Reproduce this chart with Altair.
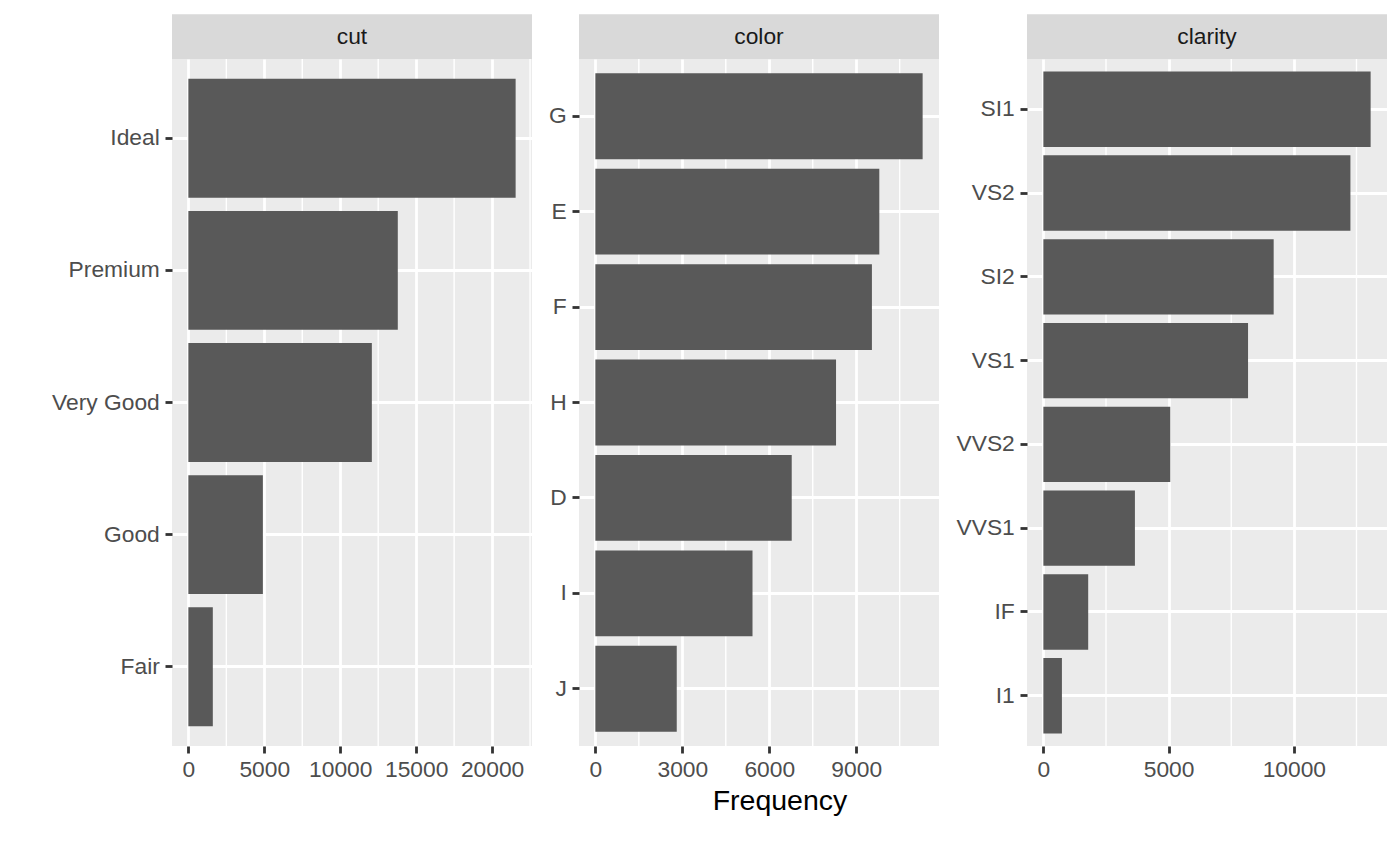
import altair as alt
import pandas as pd

# ---- data (diamonds counts) ----
cut_levels = ["Fair", "Good", "Very Good", "Premium", "Ideal"]
cut_counts = [1610, 4906, 12082, 13791, 21551]

color_levels = ["D", "E", "F", "G", "H", "I", "J"]
color_counts = [6775, 9797, 9542, 11292, 8304, 5422, 2808]

clarity_levels = ["I1", "SI2", "SI1", "VS2", "VS1", "VVS2", "VVS1", "IF"]
clarity_counts = [741, 9194, 13065, 12258, 8171, 5066, 3655, 1790]

cut_major = [0, 5000, 10000, 15000, 20000]
cut_minor = [2500, 7500, 12500, 17500, 22500]
color_major = [0, 3000, 6000, 9000]
color_minor = [1500, 4500, 7500, 10500]
clarity_major = [0, 5000, 10000]
clarity_minor = [2500, 7500, 12500]

FONT = "Liberation Sans"
W = 360
H = 687
STRIP = 44.7


def panel(name, levels, counts, major, minor, extent, xtitle=None):
    df = pd.DataFrame({"level": levels, "n": counts})
    mx = max(counts)
    xscale = alt.Scale(domain=[-0.05 * mx, 1.05 * mx], nice=False, zero=False)

    xaxis_kw = dict(values=major, grid=True, labelFlush=False, format="d")
    if xtitle is not None:
        xaxis_kw.update(titleX=W / 2 + 20.5)

    minor_layer = alt.Chart(pd.DataFrame({"n": minor})).mark_rule(
        color="white", strokeWidth=1.4
    ).encode(x=alt.X("n:Q", scale=xscale, axis=alt.Axis(**xaxis_kw), title=xtitle))

    bars = alt.Chart(df).mark_bar(color="#595959").encode(
        x=alt.X("n:Q", scale=xscale, axis=alt.Axis(**xaxis_kw), title=xtitle),
        y=alt.Y("level:N", sort="-x", title=None,
                scale=alt.Scale(paddingInner=0.1, paddingOuter=0.15),
                axis=alt.Axis(bandPosition=0.5, grid=True,
                              minExtent=extent, maxExtent=extent)),
    )

    sdf = pd.DataFrame({"name": [name]})
    strip = alt.Chart(sdf).mark_rect(color="#D9D9D9").encode(
        x=alt.value(0), x2=alt.value(W), y=alt.value(-STRIP), y2=alt.value(0)
    )
    txt = alt.Chart(sdf).mark_text(
        font=FONT, fontSize=22.8, color="#1A1A1A", align="center", baseline="middle"
    ).encode(text="name:N", x=alt.value(W / 2), y=alt.value(-STRIP / 2))

    return alt.layer(minor_layer, bars, strip, txt).properties(width=W, height=H)


p1 = panel("cut", cut_levels, cut_counts, cut_major, cut_minor, 125)
p2 = panel("color", color_levels, color_counts, color_major, color_minor, 30, xtitle="Frequency")
p3 = panel("clarity", clarity_levels, clarity_counts, clarity_major, clarity_minor, 72)

chart = alt.hconcat(p1, p2, p3, spacing=16).properties(
    padding={"left": 39, "top": 6, "right": 2, "bottom": 5},
    background="white",
).configure_view(
    fill="#EBEBEB", strokeWidth=0
).configure_axis(
    domain=False,
    gridColor="white",
    gridWidth=2.8,
    tickColor="#333333",
    tickWidth=2.8,
    tickSize=7,
    labelPadding=5.7,
    labelFont=FONT,
    labelFontSize=22.8,
    labelColor="#4D4D4D",
    titleFont=FONT,
    titleFontSize=28.5,
    titleFontWeight="normal",
    titleColor="black",
    titlePadding=5,
)

chart.save("out.html", embed_options={"renderer": "svg", "actions": False})
